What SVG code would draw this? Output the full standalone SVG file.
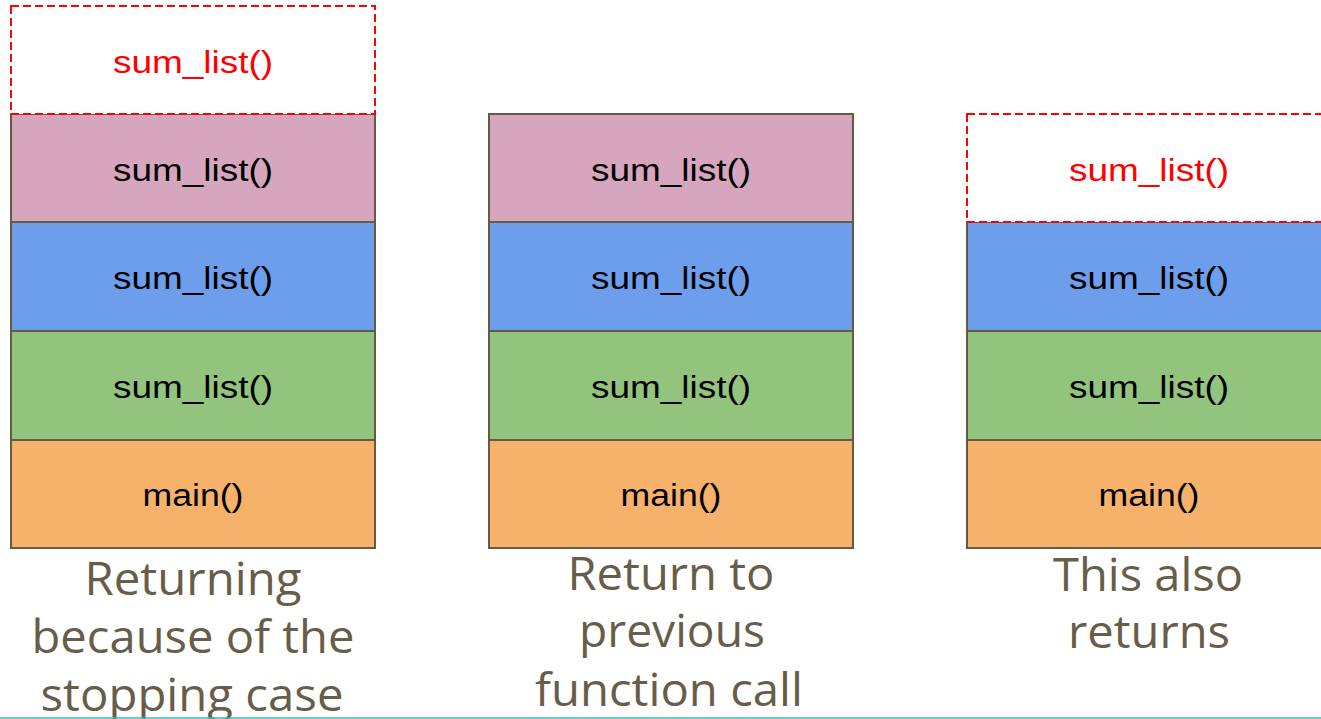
<svg xmlns="http://www.w3.org/2000/svg" width="1321" height="719" viewBox="0 0 1321 719">
<style>
.frame{stroke:#675a44;stroke-width:2}
.pink{fill:#d5a6bd}
.blue{fill:#6d9eeb}
.green{fill:#93c47d}
.orange{fill:#f6b26b}
.ghost{fill:#ffffff;stroke:#ff0000;stroke-width:2;stroke-dasharray:8 4}
.lbl{font-family:"Liberation Sans",Arial,sans-serif;font-size:31px;fill:#000000;text-anchor:middle}
.red{fill:#ff0000}
.cap{font-family:"Open Sans","Noto Sans",sans-serif;font-size:45px;fill:#685d49;text-anchor:middle}
</style>
<rect width="1321" height="719" fill="#ffffff"/>

<g id="stack1">
  <rect class="frame pink" x="11" y="114" width="364" height="108"/>
  <rect class="frame blue" x="11" y="222" width="364" height="109"/>
  <rect class="frame green" x="11" y="331" width="364" height="109"/>
  <rect class="frame orange" x="11" y="440" width="364" height="108"/>
  <rect class="ghost" x="11" y="6" width="364" height="108"/>
  <text class="lbl red" x="193" y="73" textLength="160" lengthAdjust="spacingAndGlyphs">sum_list()</text>
  <text class="lbl" x="193" y="181" textLength="160" lengthAdjust="spacingAndGlyphs">sum_list()</text>
  <text class="lbl" x="193" y="289" textLength="160" lengthAdjust="spacingAndGlyphs">sum_list()</text>
  <text class="lbl" x="193" y="398" textLength="160" lengthAdjust="spacingAndGlyphs">sum_list()</text>
  <text class="lbl" x="193" y="506" textLength="101" lengthAdjust="spacingAndGlyphs">main()</text>
  <text class="cap" x="193" y="595" textLength="217" lengthAdjust="spacingAndGlyphs">Returning</text>
  <text class="cap" x="193" y="653" textLength="323" lengthAdjust="spacingAndGlyphs">because of the</text>
  <text class="cap" x="192" y="711" textLength="303" lengthAdjust="spacingAndGlyphs">stopping case</text>
</g>

<g id="stack2">
  <rect class="frame pink" x="489" y="114" width="364" height="108"/>
  <rect class="frame blue" x="489" y="222" width="364" height="109"/>
  <rect class="frame green" x="489" y="331" width="364" height="109"/>
  <rect class="frame orange" x="489" y="440" width="364" height="108"/>
  <text class="lbl" x="671" y="181" textLength="160" lengthAdjust="spacingAndGlyphs">sum_list()</text>
  <text class="lbl" x="671" y="289" textLength="160" lengthAdjust="spacingAndGlyphs">sum_list()</text>
  <text class="lbl" x="671" y="398" textLength="160" lengthAdjust="spacingAndGlyphs">sum_list()</text>
  <text class="lbl" x="671" y="506" textLength="101" lengthAdjust="spacingAndGlyphs">main()</text>
  <text class="cap" x="671" y="590" textLength="207" lengthAdjust="spacingAndGlyphs">Return to</text>
  <text class="cap" x="672" y="647" textLength="186" lengthAdjust="spacingAndGlyphs">previous</text>
  <text class="cap" x="669" y="706" textLength="268" lengthAdjust="spacingAndGlyphs">function call</text>
</g>

<g id="stack3">
  <rect class="frame blue" x="967" y="222" width="364" height="109"/>
  <rect class="frame green" x="967" y="331" width="364" height="109"/>
  <rect class="frame orange" x="967" y="440" width="364" height="108"/>
  <rect class="ghost" x="967" y="114" width="364" height="108"/>
  <text class="lbl red" x="1149" y="181" textLength="160" lengthAdjust="spacingAndGlyphs">sum_list()</text>
  <text class="lbl" x="1149" y="289" textLength="160" lengthAdjust="spacingAndGlyphs">sum_list()</text>
  <text class="lbl" x="1149" y="398" textLength="160" lengthAdjust="spacingAndGlyphs">sum_list()</text>
  <text class="lbl" x="1149" y="506" textLength="101" lengthAdjust="spacingAndGlyphs">main()</text>
  <text class="cap" x="1148" y="591" textLength="190" lengthAdjust="spacingAndGlyphs">This also</text>
  <text class="cap" x="1149" y="648" textLength="162" lengthAdjust="spacingAndGlyphs">returns</text>
</g>

<g id="connectors"></g>

<line x1="0" y1="718" x2="1321" y2="718" stroke="#3dbcac" stroke-width="1.5"/>
</svg>
